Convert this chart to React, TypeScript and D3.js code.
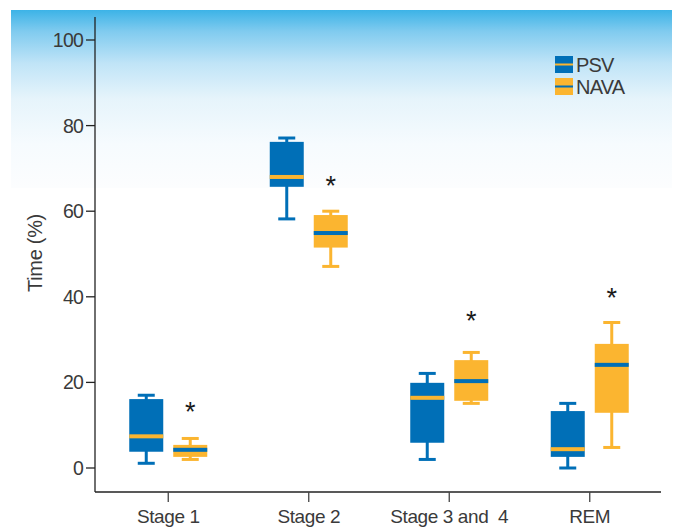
import React from "react";
import * as d3 from "d3";

const categories = ["Stage 1", "Stage 2", "Stage 3 and  4", "REM"];
const seriesNames = ["PSV", "NAVA"];
// [lowerWhisker, Q1, median, Q3, upperWhisker]
const psvStats = [
  [1.1, 3.8, 7.4, 16.1, 17.0],
  [58.2, 65.7, 68.0, 76.2, 77.1],
  [2.0, 5.9, 16.4, 19.9, 22.1],
  [0.0, 2.6, 4.4, 13.3, 15.1],
];
const navaStats = [
  [2.0, 2.6, 4.25, 5.4, 6.9],
  [47.1, 51.5, 54.9, 59.1, 60.0],
  [15.1, 15.7, 20.3, 25.2, 27.0],
  [4.8, 12.9, 24.1, 29.0, 34.0],
];
const significanceMarks = [14.5, 67.3, 35.8, 41.0];
const yTicks = [0, 20, 40, 60, 80, 100];

const BLUE = "#006fb7";
const ORANGE = "#fbb530";
const TEXT = "#3a3a3a";
const FONT = "'Liberation Sans', Arial, sans-serif";

export default function App() {
  const W = 675;
  const H = 528;
  const y = d3.scaleLinear().domain([0, 100]).range([468, 40]);
  const x = d3.scaleBand<string>().domain(categories).range([98, 660]);
  const offset = 22;
  const boxW = 34;
  const capW = 17;
  const colors = [BLUE, ORANGE];
  const contrasts = [ORANGE, BLUE];
  const all = [psvStats, navaStats];

  return (
    <svg width={W} height={H} style={{ position: "absolute", left: 0, top: 0 }}>
      <defs>
        <linearGradient id="bg" x1="0" y1="0" x2="0" y2="1">
          <stop offset="0%" stopColor="#3cb3e7" />
          <stop offset="12%" stopColor="#80cbef" />
          <stop offset="30%" stopColor="#c0e4f7" />
          <stop offset="50%" stopColor="#e6f4fb" />
          <stop offset="75%" stopColor="#f6fbfe" />
          <stop offset="100%" stopColor="#fcfdfe" />
        </linearGradient>
      </defs>
      <rect x={0} y={0} width={W} height={H} fill="#ffffff" />
      <rect x={11} y={10} width={661} height={178} fill="url(#bg)" />

      {/* axes */}
      <line x1={95} x2={95} y1={17} y2={492} stroke="#222" strokeWidth={1.3} />
      <line x1={95} x2={661} y1={492} y2={492} stroke="#222" strokeWidth={1.3} />
      {yTicks.map((t) => (
        <g key={t}>
          <line x1={86} x2={95} y1={y(t)} y2={y(t)} stroke="#222" strokeWidth={1.3} />
          <text
            x={83}
            y={y(t)}
            dy="0.36em"
            textAnchor="end"
            fontFamily={FONT}
            fontSize={19.5}
            letterSpacing={-0.8}
            fill={TEXT}
          >
            {t}
          </text>
        </g>
      ))}
      {categories.map((c) => {
        const cx = (x(c) as number) + x.bandwidth() / 2;
        return (
          <g key={c}>
            <line x1={cx} x2={cx} y1={492} y2={502} stroke="#444" strokeWidth={1.3} />
            <text
              x={cx}
              y={523}
              textAnchor="middle"
              fontFamily={FONT}
              fontSize={19}
              letterSpacing={-0.4}
              fill={TEXT}
              style={{ whiteSpace: "pre" }}
            >
              {c}
            </text>
          </g>
        );
      })}
      <text
        transform={`translate(42,253) rotate(-90)`}
        textAnchor="middle"
        fontFamily={FONT}
        fontSize={20}
        letterSpacing={-0.3}
        fill={TEXT}
      >
        Time (%)
      </text>

      {/* boxes */}
      {categories.map((c, i) => {
        const cx = (x(c) as number) + x.bandwidth() / 2;
        return (
          <g key={c}>
            {all.map((stats, s) => {
              const [lo, q1, med, q3, hi] = stats[i];
              const bx = cx + (s === 0 ? -offset : offset);
              const col = colors[s];
              return (
                <g key={s}>
                  <line x1={bx} x2={bx} y1={y(hi)} y2={y(lo)} stroke={col} strokeWidth={3} />
                  <line x1={bx - capW / 2} x2={bx + capW / 2} y1={y(hi)} y2={y(hi)} stroke={col} strokeWidth={3} />
                  <line x1={bx - capW / 2} x2={bx + capW / 2} y1={y(lo)} y2={y(lo)} stroke={col} strokeWidth={3} />
                  <rect x={bx - boxW / 2} y={y(q3)} width={boxW} height={y(q1) - y(q3)} fill={col} />
                  <rect x={bx - boxW / 2} y={y(med) - 2} width={boxW} height={4} fill={contrasts[s]} />
                </g>
              );
            })}
            <text
              x={cx + offset}
              y={y(significanceMarks[i])}
              dy="0.55em"
              textAnchor="middle"
              fontFamily={FONT}
              fontSize={27}
              fill="#1a1a1a"
            >
              *
            </text>
          </g>
        );
      })}

      {/* legend */}
      {seriesNames.map((n, s) => (
        <g key={n} transform={`translate(555,${56 + s * 22})`}>
          <rect x={0} y={0} width={18} height={17} fill={colors[s]} />
          <rect x={0} y={7.5} width={18} height={2} fill={contrasts[s]} />
          <text x={21} y={16} fontFamily={FONT} fontSize={20} letterSpacing={-0.8} fill={TEXT}>
            {n}
          </text>
        </g>
      ))}
    </svg>
  );
}
